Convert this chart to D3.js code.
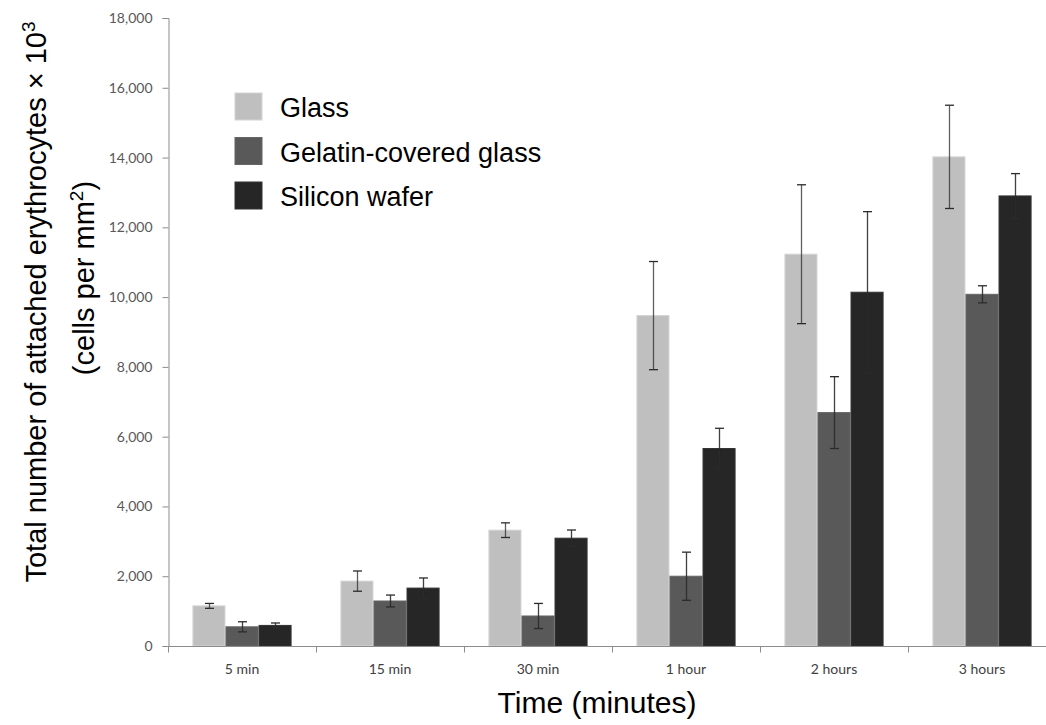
<!DOCTYPE html>
<html>
<head>
<meta charset="utf-8">
<script src="https://cdn.jsdelivr.net/npm/d3@7"></script>
<style>
  body { margin: 0; background: #fff; }
  svg { display: block; }
</style>
</head>
<body>
<svg id="chart" width="1046" height="725"></svg>
<script>
const categories = ["5 min", "15 min", "30 min", "1 hour", "2 hours", "3 hours"];
const seriesNames = ["Glass", "Gelatin-covered glass", "Silicon wafer"];
const glassValues = [1150, 1860, 3320, 9470, 11230, 14020];
const glassErrors = [70, 290, 210, 1550, 1990, 1480];
const gelatinValues = [550, 1290, 860, 2000, 6690, 10080];
const gelatinErrors = [145, 170, 360, 690, 1030, 245];
const siliconValues = [590, 1660, 3090, 5660, 10140, 12900];
const siliconErrors = [70, 290, 235, 580, 2310, 640];
const yTicks = [0, 2000, 4000, 6000, 8000, 10000, 12000, 14000, 16000, 18000];
const seriesColors = ["#bfbfbf", "#595959", "#262626"];
const seriesStrokes = ["#d4d4d4", "#656565", "#333333"];

const valuesBySeries = [glassValues, gelatinValues, siliconValues];
const errorsBySeries = [glassErrors, gelatinErrors, siliconErrors];

const svg = d3.select("#chart");
const plotLeft = 168, plotRight = 1056, plotTop = 18, plotBottom = 646;

const y = d3.scaleLinear().domain([0, 18000]).range([plotBottom, plotTop]);
const x0 = d3.scaleBand().domain(categories).range([plotLeft, plotRight])
  .paddingInner(0.33).paddingOuter(0.165);
const x1 = d3.scaleBand().domain(seriesNames).range([0, x0.bandwidth()]);

const data = [];
categories.forEach((c, i) => {
  seriesNames.forEach((s, j) => {
    data.push({ cat: c, series: s, j, value: valuesBySeries[j][i], err: errorsBySeries[j][i] });
  });
});

// bars
svg.append("g").selectAll("rect").data(data).join("rect")
  .attr("x", d => x0(d.cat) + x1(d.series) + 0.5)
  .attr("y", d => y(d.value))
  .attr("width", x1.bandwidth() - 1)
  .attr("height", d => y(0) - y(d.value))
  .attr("fill", d => seriesColors[d.j])
  .attr("stroke", d => seriesStrokes[d.j])
  .attr("stroke-width", 1);

// error bars
const eg = svg.append("g").attr("stroke", "#2b2b2b").attr("stroke-width", 1.3).attr("fill", "none");
data.forEach(d => {
  const cx = Math.round(x0(d.cat) + x1(d.series) + x1.bandwidth() / 2) + 0.5;
  const y1 = y(d.value + d.err), y2 = y(d.value - d.err);
  eg.append("line").attr("x1", cx).attr("x2", cx).attr("y1", y1).attr("y2", y2).attr("stroke-opacity", d.j === 0 ? 0.75 : 0.9);
  eg.append("line").attr("x1", cx - 4.5).attr("x2", cx + 4.5).attr("y1", y1).attr("y2", y1);
  eg.append("line").attr("x1", cx - 4.5).attr("x2", cx + 4.5).attr("y1", y2).attr("y2", y2);
});

// y axis
const yAxis = d3.axisLeft(y).tickValues(yTicks).tickSize(6).tickPadding(10)
  .tickFormat(d3.format(","));
const yg = svg.append("g").attr("transform", `translate(${plotLeft + 0.5},0)`).call(yAxis);
yg.select(".domain").attr("stroke", "#8c8c8c");
yg.selectAll(".tick line").attr("stroke", "#8c8c8c");
yg.selectAll(".tick text").attr("fill", "#595959")
  .style("font-family", "Lato, 'Open Sans', sans-serif").style("font-size", "14px");

// x axis
const xg = svg.append("g").attr("transform", `translate(0,${plotBottom + 0.5})`);
xg.append("line").attr("x1", plotLeft).attr("x2", plotRight).attr("y1", 0).attr("y2", 0).attr("stroke", "#8c8c8c");
const boundaries = categories.map(c => x0(c) - x0.step() * x0.paddingInner() / 2);
xg.selectAll(".xt").data(boundaries).join("line")
  .attr("x1", d => Math.round(d) + 0.5).attr("x2", d => Math.round(d) + 0.5)
  .attr("y1", 0).attr("y2", 6).attr("stroke", "#8c8c8c");
xg.selectAll(".xl").data(categories).join("text")
  .attr("x", d => x0(d) + x0.bandwidth() / 2)
  .attr("y", 27)
  .attr("text-anchor", "middle")
  .attr("fill", "#404040")
  .style("font-family", "Lato, 'Open Sans', sans-serif").style("font-size", "14px")
  .text(d => d);

// axis titles
svg.append("text")
  .attr("x", 597).attr("y", 713)
  .attr("text-anchor", "middle")
  .style("font-family", "'Liberation Sans', Arial, sans-serif").style("font-size", "30px")
  .attr("fill", "#000")
  .text("Time (minutes)");

const t1 = svg.append("text")
  .attr("transform", "translate(46,302) rotate(-90)")
  .attr("text-anchor", "middle")
  .style("font-family", "'Liberation Sans', Arial, sans-serif").style("font-size", "29px")
  .attr("fill", "#000");
t1.append("tspan").text("Total number of attached erythrocytes × 10");
t1.append("tspan").attr("dy", -11).style("font-size", "19px").text("3");

const t2 = svg.append("text")
  .attr("transform", "translate(94,278) rotate(-90)")
  .attr("text-anchor", "middle")
  .style("font-family", "'Liberation Sans', Arial, sans-serif").style("font-size", "29px")
  .attr("fill", "#000");
t2.append("tspan").text("(cells per mm");
t2.append("tspan").attr("dy", -11).style("font-size", "19px").text("2");
t2.append("tspan").attr("dy", 11).text(")");

// legend
const lg = svg.append("g");
seriesNames.forEach((s, j) => {
  const yy = 93 + j * 44.5;
  lg.append("rect").attr("x", 235).attr("y", yy).attr("width", 27).attr("height", 27)
    .attr("fill", seriesColors[j]).attr("stroke", seriesStrokes[j]);
  lg.append("text").attr("x", 280).attr("y", yy + 24)
    .style("font-family", "'Liberation Sans', Arial, sans-serif").style("font-size", "27px")
    .attr("fill", "#000").text(s);
});
</script>
</body>
</html>
